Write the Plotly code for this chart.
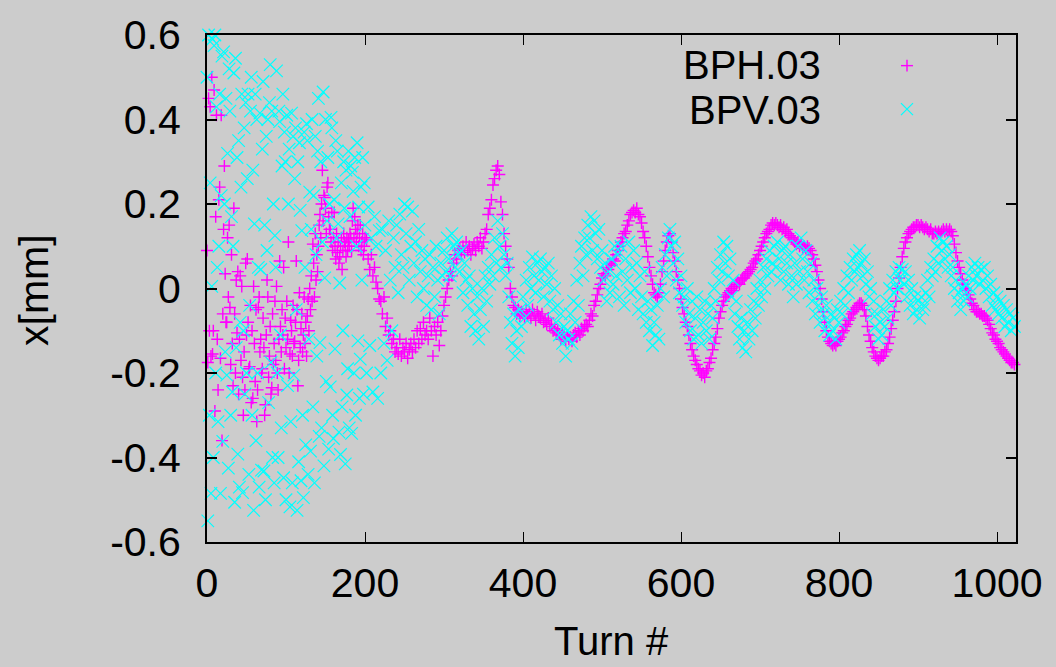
import plotly.graph_objects as go

# ---------------- data ----------------
# BPH.03, turns 0..199, every turn
BPH_T000 = [
    0.09, -0.175, 0.45, -0.1, 0.43, -0.16, 0.5, -0.155, -0.1, 0.47,
    -0.29, 0.17, 0.41, -0.12, -0.24, 0.21, 0.24, -0.165, 0.41, -0.36,
    -0.06, 0.14, 0.29, 0.035, -0.08, -0.08, 0.12, -0.02, 0.15, -0.045,
    -0.18, 0.08, -0.13, -0.23, 0.19, -0.06, -0.2, 0.02, -0.105, 0.04,
    -0.25, -0.12, 0.03, -0.17, 0.005, -0.21, -0.3, -0.15, -0.24, 0.06,
    -0.11, 0.07, -0.08, -0.19, -0.185, -0.04, -0.27, -0.1, -0.26, 0.005,
    -0.13, -0.22, -0.05, -0.315, -0.24, -0.045, -0.02, -0.15, -0.12, -0.2,
    -0.19, -0.07, -0.14, -0.3, -0.275, -0.11, 0.02, -0.02, -0.21, -0.16,
    -0.09, -0.25, -0.235, -0.06, -0.18, -0.13, -0.03, -0.17, 0.005, -0.2,
    -0.24, -0.12, 0.065, -0.09, -0.15, -0.05, -0.11, 0.05, -0.19, -0.07,
    -0.14, -0.03, -0.12, 0.11, -0.2, -0.155, -0.075, -0.1, -0.16, -0.04,
    -0.13, -0.125, -0.08, 0.065, -0.05, -0.23, -0.17, -0.01, -0.14, -0.095,
    -0.06, -0.15, -0.11, -0.02, -0.13, -0.08, -0.16, -0.065, -0.025, -0.1,
    0.0, -0.05, 0.03, -0.03, 0.105, 0.06, -0.02, 0.13, 0.02, 0.08,
    0.04, 0.1, 0.15, 0.175, 0.12, 0.2, 0.28, 0.16, 0.22, 0.215,
    0.19, 0.13, 0.24, 0.25, 0.17, 0.14, 0.14, 0.11, 0.18, 0.09,
    0.12, 0.18, 0.1, 0.07, 0.13, 0.085, 0.11, 0.06, 0.075, 0.1,
    0.12, 0.045, 0.09, 0.13, 0.11, 0.1, 0.075, 0.12, 0.09, 0.115,
    0.1, 0.13, 0.12, 0.09, 0.16, 0.19, 0.12, 0.17, 0.14, 0.11,
    0.13, 0.15, 0.1, 0.12, 0.15, 0.09, 0.11, 0.13, 0.08, 0.1,
]
# BPH.03, turns 200..398, every 2nd turn
BPH_T200 = [
    0.12, 0.115, 0.07, 0.045, 0.08, 0.03, 0.05, 0.015, 0.0, -0.025,
    -0.03, -0.06, -0.02, -0.09, -0.07, -0.11, -0.1, -0.13, -0.12, -0.15,
    -0.14, -0.155, -0.12, -0.16, -0.14, -0.15, -0.13, -0.165, -0.145, -0.13,
    -0.15, -0.12, -0.14, -0.1, -0.13, -0.095, -0.12, -0.08, -0.11, -0.1,
    -0.12, -0.07, -0.1, -0.16, -0.09, -0.11, -0.08, -0.135, -0.1, -0.065,
    -0.04, -0.02, 0.0, 0.02, 0.04, 0.03, 0.06, 0.08, 0.07, 0.09,
    0.095, 0.08, 0.1, 0.085, 0.11, 0.09, 0.1, 0.08, 0.095, 0.105,
    0.09, 0.11, 0.1, 0.12, 0.095, 0.11, 0.13, 0.14, 0.175, 0.19,
    0.21, 0.245, 0.26, 0.28, 0.29, 0.27, 0.205, 0.175, 0.13, 0.1,
    0.07, 0.05, 0.0, -0.02, -0.04, -0.045, -0.06, -0.05, -0.065, -0.055,
]
BPH_T400 = [
    -0.06, -0.07, -0.05, -0.065, -0.055, -0.07, -0.05, -0.06, -0.075, -0.055,
    -0.065, -0.07, -0.06, -0.08, -0.075, -0.085, -0.07, -0.09, -0.085, -0.1,
    -0.095, -0.105, -0.1, -0.11, -0.12, -0.105, -0.115, -0.125, -0.11, -0.12,
    -0.115, -0.125, -0.11, -0.105, -0.115, -0.1, -0.11, -0.095, -0.1, -0.09,
    -0.085, -0.09, -0.075, -0.06, -0.065, -0.04, -0.03, -0.015, 0.0, 0.01,
    0.025, 0.035, 0.03, 0.05, 0.045, 0.06, 0.055, 0.07, 0.065, 0.08,
    0.09, 0.1, 0.11, 0.12, 0.13, 0.135, 0.15, 0.16, 0.175, 0.18,
    0.185, 0.18, 0.19, 0.175, 0.17, 0.155, 0.135, 0.12, 0.1, 0.075,
    0.05, 0.03, 0.01, -0.01, -0.015, -0.02, -0.01, 0.01, 0.04, 0.065,
    0.09, 0.11, 0.125, 0.13, 0.11, 0.085, 0.065, 0.04, 0.02, 0.0,
]
BPH_T600 = [
    -0.025, -0.045, -0.06, -0.08, -0.09, -0.11, -0.13, -0.145, -0.16, -0.17,
    -0.18, -0.19, -0.195, -0.205, -0.2, -0.21, -0.195, -0.19, -0.175, -0.165,
    -0.145, -0.13, -0.115, -0.095, -0.07, -0.055, -0.04, -0.03, -0.02, -0.015,
    -0.01, -0.005, 0.0, -0.005, 0.005, 0.01, 0.015, 0.01, 0.02, 0.025,
    0.025, 0.03, 0.035, 0.04, 0.045, 0.05, 0.06, 0.065, 0.07, 0.08,
    0.09, 0.1, 0.11, 0.12, 0.13, 0.135, 0.14, 0.15, 0.155, 0.15,
    0.155, 0.15, 0.145, 0.15, 0.14, 0.145, 0.135, 0.14, 0.13, 0.125,
    0.12, 0.115, 0.11, 0.105, 0.11, 0.1, 0.105, 0.095, 0.1, 0.095,
    0.1, 0.095, 0.09, 0.08, 0.07, 0.055, 0.04, 0.02, 0.0, -0.025,
    -0.055, -0.08, -0.1, -0.115, -0.125, -0.13, -0.135, -0.13, -0.135, -0.125,
]
BPH_T800 = [
    -0.12, -0.115, -0.105, -0.1, -0.09, -0.085, -0.075, -0.07, -0.06, -0.055,
    -0.05, -0.045, -0.04, -0.035, -0.035, -0.04, -0.05, -0.065, -0.09, -0.11,
    -0.125, -0.14, -0.15, -0.16, -0.165, -0.17, -0.165, -0.16, -0.16, -0.15,
    -0.145, -0.13, -0.115, -0.095, -0.075, -0.055, -0.03, 0.0, 0.025, 0.05,
    0.075, 0.095, 0.11, 0.12, 0.13, 0.135, 0.14, 0.145, 0.145, 0.15,
    0.15, 0.145, 0.15, 0.145, 0.14, 0.145, 0.14, 0.135, 0.14, 0.13,
    0.13, 0.135, 0.13, 0.135, 0.13, 0.135, 0.14, 0.135, 0.14, 0.135,
    0.14, 0.135, 0.125, 0.105, 0.085, 0.065, 0.05, 0.035, 0.02, 0.01,
    0.0, -0.005, -0.015, -0.025, -0.035, -0.04, -0.05, -0.055, -0.055, -0.06,
    -0.06, -0.065, -0.065, -0.07, -0.075, -0.085, -0.095, -0.105, -0.11, -0.12,
]
BPH_T1000 = [-0.125, -0.13, -0.14, -0.145, -0.15, -0.155, -0.16, -0.165, -0.17, -0.175, -0.175, -0.18]

# BPV.03, turns 0..199, every turn
BPV_T000 = [
    0.5, -0.55, 0.6, -0.3, 0.25, -0.485, 0.005, 0.59, -0.4, 0.575,
    0.6, -0.2, 0.43, 0.05, -0.315, 0.1, 0.46, -0.485, 0.22, 0.55,
    -0.362, 0.56, 0.2, -0.15, 0.45, -0.205, 0.32, -0.425, 0.52, 0.42,
    -0.3, 0.17, -0.245, 0.1, 0.51, -0.506, 0.545, -0.14, 0.31, -0.392,
    0.35, -0.47, -0.08, 0.24, 0.46, -0.483, -0.1, 0.38, -0.25, 0.44,
    -0.2, 0.26, 0.46, -0.44, -0.04, 0.42, 0.5, -0.3, 0.28, -0.525,
    0.153, 0.46, -0.36, 0.4, -0.2, 0.05, -0.47, 0.415, 0.045, -0.43,
    0.33, 0.49, -0.432, 0.15, -0.5, 0.36, 0.09, 0.4, -0.27, 0.44,
    0.53, -0.175, 0.42, -0.4, 0.2, -0.46, 0.125, 0.05, 0.515, -0.2,
    -0.4, 0.42, 0.395, -0.11, -0.33, 0.29, 0.46, -0.448, 0.37, 0.3,
    -0.5, 0.41, -0.23, 0.2, 0.33, -0.517, -0.315, 0.415, -0.46, 0.36,
    -0.205, 0.26, 0.38, -0.05, -0.525, 0.3, -0.41, 0.345, 0.185, -0.455,
    0.137, -0.3, -0.495, 0.37, 0.05, -0.37, 0.39, 0.35, -0.44, -0.12,
    0.228, -0.385, 0.14, 0.4, -0.28, 0.22, -0.46, 0.36, 0.08, -0.16,
    0.325, 0.45, -0.35, -0.128, 0.3, -0.33, 0.11, 0.465, -0.42, 0.025,
    0.4, -0.22, 0.16, 0.31, -0.38, 0.2, -0.233, 0.405, 0.38, -0.3,
    -0.355, 0.21, -0.143, 0.35, 0.12, 0.325, 0.153, -0.34, 0.013, -0.393,
    0.25, -0.28, -0.1, 0.3, 0.19, -0.415, 0.28, -0.252, -0.19, 0.325,
    -0.33, 0.17, 0.29, -0.343, 0.275, 0.23, -0.2, 0.31, -0.3, 0.1,
    0.345, -0.124, 0.193, -0.26, -0.167, 0.24, 0.02, 0.31, -0.25, 0.25,
]
BPV_T200 = [
    0.15, -0.2, 0.193, -0.135, 0.12, -0.245, 0.17, 0.1, -0.26, 0.137,
    -0.2, 0.14, -0.13, 0.09, -0.17, 0.16, 0.02, -0.1, 0.12, 0.05,
    0.15, -0.01, 0.176, 0.08, 0.05, 0.2, 0.13, 0.193, 0.02, 0.1,
    0.183, 0.06, 0.11, -0.02, 0.14, 0.04, 0.09, 0.0, 0.07, -0.04,
    0.03, 0.08, -0.05, 0.05, -0.02, 0.1, 0.02, -0.06, 0.06, 0.03,
    0.09, 0.04, 0.12, 0.07, 0.03, 0.13, 0.1, 0.05, 0.11, 0.08,
    0.04, 0.09, -0.01, 0.06, 0.02, -0.04, 0.03, -0.09, 0.0, -0.06,
    -0.1, -0.02, -0.12, -0.05, 0.0, -0.09, 0.03, -0.03, 0.05, 0.01,
    0.08, 0.03, 0.12, 0.06, 0.16, 0.1, 0.05, 0.13, 0.08, 0.03,
    0.06, -0.02, -0.08, -0.13, -0.06, -0.16, -0.1, -0.14, -0.05, -0.09,
]
BPV_T400 = [
    -0.02, -0.07, 0.02, -0.04, 0.05, 0.0, 0.075, 0.03, -0.01, 0.06,
    0.02, 0.07, 0.04, -0.02, 0.05, 0.01, 0.06, -0.03, 0.03, -0.05,
    0.0, -0.08, -0.04, -0.11, -0.06, -0.13, -0.09, -0.16, -0.1, -0.12,
    -0.06, -0.13, -0.03, -0.08, 0.02, -0.04, 0.06, 0.1, 0.03, 0.12,
    0.08, 0.15, 0.12, 0.17, 0.09, 0.16, 0.13, 0.07, 0.14, 0.05,
    0.09, 0.02, 0.06, -0.03, 0.04, -0.01, 0.07, 0.01, 0.1, 0.03,
    0.08, -0.02, 0.1, 0.04, -0.04, 0.07, 0.02, 0.11, -0.01, 0.05,
    0.09, 0.0, 0.06, -0.05, 0.03, -0.02, -0.06, 0.04, -0.08, -0.03,
    -0.1, -0.05, -0.135, -0.08, -0.11, -0.04, -0.12, 0.0, 0.05, -0.02,
    0.08, 0.03, 0.12, 0.14, 0.1, 0.06, 0.11, 0.02, 0.07, -0.01,
]
BPV_T600 = [
    0.03, -0.04, -0.02, -0.08, 0.0, -0.06, -0.1, -0.03, -0.12, -0.07,
    -0.02, -0.11, -0.05, -0.13, -0.08, -0.03, -0.1, -0.06, -0.12, -0.04,
    -0.07, 0.0, -0.03, 0.05, 0.02, 0.08, 0.04, 0.11, 0.06, 0.1,
    0.03, 0.07, -0.02, 0.02, -0.06, -0.03, -0.09, -0.12, -0.07, -0.14,
    -0.1, -0.15, -0.08, -0.12, -0.05, -0.1, -0.03, -0.07, 0.0, -0.04,
    0.02, -0.02, 0.05, 0.0, 0.07, 0.03, 0.09, 0.04, 0.06, 0.1,
    0.05, 0.11, 0.07, 0.02, 0.09, 0.04, 0.1, 0.06, 0.01, 0.08,
    0.03, -0.02, 0.06, 0.01, 0.1, 0.04, 0.12, 0.07, 0.02, 0.09,
    0.04, -0.01, 0.06, -0.03, 0.02, -0.06, 0.0, -0.04, -0.08, -0.02,
    -0.06, -0.1, -0.04, -0.08, -0.11, -0.06, -0.1, -0.07, -0.12, -0.05,
]
BPV_T800 = [
    -0.08, -0.03, -0.06, 0.0, -0.04, 0.03, -0.01, 0.05, 0.02, 0.07,
    0.04, 0.08, 0.05, 0.09, 0.06, 0.03, 0.07, 0.01, 0.04, -0.02,
    0.0, -0.06, -0.03, -0.09, -0.06, -0.12, -0.08, -0.11, -0.05, -0.09,
    -0.03, -0.07, 0.0, -0.04, 0.02, -0.01, 0.04, 0.0, 0.05, 0.02,
    0.045, 0.01, 0.04, -0.02, 0.02, -0.04, 0.0, -0.06, -0.02, -0.05,
    -0.03, -0.07, -0.02, -0.05, -0.04, -0.01, 0.02, -0.02, 0.05, 0.03,
    0.07, 0.04, 0.1, 0.06, 0.12, 0.09, 0.11, 0.07, 0.1, 0.05,
    0.08, 0.03, 0.05, 0.0, 0.02, -0.03, -0.01, -0.05, 0.0, -0.03,
    0.01, -0.02, 0.03, 0.0, 0.05, 0.02, 0.06, 0.03, 0.05, 0.01,
    0.045, 0.02, 0.05, 0.0, 0.03, -0.02, 0.01, -0.04, -0.01, -0.05,
]
BPV_T1000 = [-0.02, -0.06, -0.03, -0.07, -0.04, -0.09, -0.05, -0.08, -0.06, -0.1, -0.07, -0.09]

X_TICKS = [0, 200, 400, 600, 800, 1000]
X_TICK_TEXT = ["0", "200", "400", "600", "800", "1000"]
Y_TICKS = [0.6, 0.4, 0.2, 0.0, -0.2, -0.4, -0.6]
Y_TICK_TEXT = ["0.6", "0.4", "0.2", "0", "-0.2", "-0.4", "-0.6"]


def build(chunks):
    xs, ys = [], []
    for start, step, vals in chunks:
        xs += [start + step * i for i in range(len(vals))]
        ys += vals
    return xs, ys


bph_x, bph_y = build([(0, 1, BPH_T000), (200, 2, BPH_T200), (400, 2, BPH_T400),
                      (600, 2, BPH_T600), (800, 2, BPH_T800), (1000, 2, BPH_T1000)])
bpv_x, bpv_y = build([(0, 1, BPV_T000), (200, 2, BPV_T200), (400, 2, BPV_T400),
                      (600, 2, BPV_T600), (800, 2, BPV_T800), (1000, 2, BPV_T1000)])

MAG = "#ff00ff"
CYA = "#00ffff"
FONT = "Liberation Sans, Arial, sans-serif"

fig = go.Figure()
fig.add_trace(go.Scatter(x=bph_x, y=bph_y, mode="markers", name="BPH.03",
                         cliponaxis=False,
                         marker=dict(symbol="cross-thin", size=8.6,
                                     line=dict(color=MAG, width=1.4))))
fig.add_trace(go.Scatter(x=bpv_x, y=bpv_y, mode="markers", name="BPV.03",
                         cliponaxis=False,
                         marker=dict(symbol="x-thin", size=12.5,
                                     line=dict(color=CYA, width=1.2))))

L, R, T, B = 207, 1016, 29, 542
W, H = 1056, 667
pw, ph = R - L, B - T


def px(xp):
    return (xp - L) / pw


def py(yp):
    return (B - yp) / ph


fig.update_layout(
    width=W, height=H,
    margin=dict(l=L, r=W - R, t=T, b=H - B, pad=0),
    paper_bgcolor="#cccccc", plot_bgcolor="#cccccc",
    showlegend=False,
    font=dict(family=FONT, size=41, color="black"),
    xaxis=dict(range=[0, 1024], tickvals=X_TICKS, ticktext=X_TICK_TEXT,
               ticks="inside", ticklen=10, tickwidth=1.3, tickcolor="black",
               showline=True, linecolor="black", linewidth=2, mirror="ticks",
               showgrid=False, zeroline=False, ticklabelstandoff=4,
               tickfont=dict(family=FONT, size=41, color="black")),
    yaxis=dict(range=[-0.6, 0.6], tickvals=Y_TICKS, ticktext=Y_TICK_TEXT,
               ticks="inside", ticklen=10, tickwidth=2, tickcolor="black",
               showline=True, linecolor="black", linewidth=2, mirror="ticks",
               showgrid=False, zeroline=False, ticklabelstandoff=16,
               tickfont=dict(family=FONT, size=41, color="black")),
)

annotations = [
    dict(text="x[mm]", x=px(34), y=py(287), xref="paper", yref="paper",
         textangle=-90, showarrow=False, xanchor="center", yanchor="middle",
         font=dict(family=FONT, size=41, color="black")),
    dict(text="Turn #", x=px(611), y=py(642), xref="paper", yref="paper",
         showarrow=False, xanchor="center", yanchor="middle",
         font=dict(family=FONT, size=40, color="black")),
    dict(text="BPH.03", x=px(823), y=py(59), xref="paper", yref="paper",
         showarrow=False, xanchor="right", yanchor="middle",
         font=dict(family=FONT, size=40, color="black")),
    dict(text="BPV.03", x=px(823), y=py(105), xref="paper", yref="paper",
         showarrow=False, xanchor="right", yanchor="middle",
         font=dict(family=FONT, size=40, color="black")),
]
fig.update_layout(annotations=annotations)

# legend symbols
cx, r = 907, 6
ya, yb = 60, 104
shapes = []
for (x0, y0, x1, y1) in [(cx - r, ya, cx + r, ya), (cx, ya - r, cx, ya + r)]:
    shapes.append(dict(type="line", xref="paper", yref="paper",
                       x0=px(x0), y0=py(y0), x1=px(x1), y1=py(y1),
                       line=dict(color=MAG, width=1.4)))
for (x0, y0, x1, y1) in [(cx - r, yb - r, cx + r, yb + r), (cx - r, yb + r, cx + r, yb - r)]:
    shapes.append(dict(type="line", xref="paper", yref="paper",
                       x0=px(x0), y0=py(y0), x1=px(x1), y1=py(y1),
                       line=dict(color=CYA, width=1.2)))
fig.update_layout(shapes=shapes)

fig.write_html("out.html")
